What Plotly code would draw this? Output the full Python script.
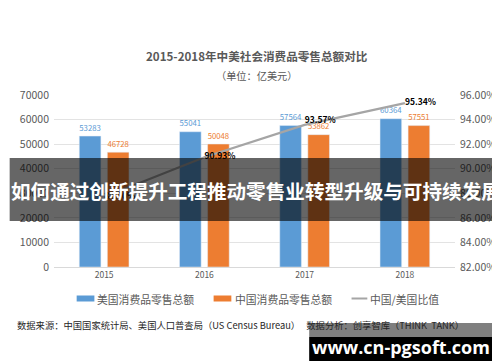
import plotly.graph_objects as go

years = ["2015", "2016", "2017", "2018"]
us_sales = [53283, 55041, 57564, 60364]
cn_sales = [46728, 50048, 53862, 57551]
ratio_pct = [87.70, 90.93, 93.57, 95.34]
left_ticks = [0, 10000, 20000, 30000, 40000, 50000, 60000, 70000]
right_ticks = [82, 84, 86, 88, 90, 92, 94, 96]

BLUE = "#5b9bd5"
ORANGE = "#ed7d31"
GRAY = "#a5a5a5"
TXT = "#595959"
FONT = "Noto Sans CJK SC"

W, H = 500, 362
L, R, T, B = 45, 452, 87, 259


def px(x):
    return (x - L) / (R - L)


def py(y):
    return (B - y) / (B - T)


fig = go.Figure()
fig.add_trace(go.Bar(
    x=years, y=us_sales, name="美国消费品零售总额", marker_color=BLUE,
    text=us_sales, textposition="outside", cliponaxis=False,
    textfont=dict(color=BLUE, size=9.5, family=FONT),
))
fig.add_trace(go.Bar(
    x=years, y=cn_sales, name="中国消费品零售总额", marker_color=ORANGE,
    text=cn_sales, textposition="outside", cliponaxis=False,
    textfont=dict(color=ORANGE, size=9.5, family=FONT),
))
fig.add_trace(go.Scatter(
    x=years, y=ratio_pct, name="中国/美国比值", yaxis="y2", mode="lines+text",
    line=dict(color=GRAY, width=2.2),
    text=[f"{v:.2f}%" for v in ratio_pct],
    textposition=["middle right", "middle right", "top right", "middle right"],
    textfont=dict(color="#000000", size=8.5, family=FONT, weight="bold"),
    cliponaxis=False,
))

fig.update_layout(
    width=W, height=H,
    margin=dict(l=L, r=W - R, t=T, b=H - B, pad=0),
    paper_bgcolor="white", plot_bgcolor="white",
    showlegend=False,
    barmode="group", bargap=0.44, bargroupgap=0.23,
    font=dict(family=FONT, color=TXT),
    xaxis=dict(
        type="category", showgrid=False, showline=True, linecolor="#d9d9d9",
        linewidth=1, ticks="", tickfont=dict(size=8.5, color=TXT),
    ),
    yaxis=dict(
        range=[0, 70000], tickvals=left_ticks, ticktext=[str(v) for v in left_ticks],
        showgrid=True, gridcolor="#e3e3e3", gridwidth=1, zeroline=False,
        tickfont=dict(size=10.5, color=TXT), ticklabelstandoff=4,
    ),
    yaxis2=dict(
        range=[82, 96], overlaying="y", side="right",
        tickvals=right_ticks, ticktext=[f"{v:.2f}%" for v in right_ticks],
        showgrid=False, zeroline=False,
        tickfont=dict(size=10.5, color=TXT), ticklabelstandoff=4,
    ),
)

shapes = []
annotations = []


def note(x, y, text, size, color=TXT, xanchor="center", family=FONT):
    annotations.append(dict(x=px(x), y=py(y), xref="paper", yref="paper", showarrow=False,
                            xanchor=xanchor, yanchor="middle", text=text,
                            font=dict(size=size, color=color, family=family)))


# titles
note(251, 48, "<b>2015-2018年中美社会消费品零售总额对比</b>", 11.6)
note(251, 67, "（单位：亿美元）", 10.2)

# custom legend
leg_y = 290.5
shapes.append(dict(type="rect", xref="paper", yref="paper", x0=px(68), x1=px(86),
                   y0=py(293.5), y1=py(287.5), fillcolor=BLUE, line=dict(width=0)))
shapes.append(dict(type="rect", xref="paper", yref="paper", x0=px(207), x1=px(225),
                   y0=py(293.5), y1=py(287.5), fillcolor=ORANGE, line=dict(width=0)))
shapes.append(dict(type="line", xref="paper", yref="paper", x0=px(347), x1=px(363),
                   y0=py(leg_y), y1=py(leg_y), line=dict(color=GRAY, width=2)))
for xs, label in [(87, "美国消费品零售总额"), (227, "中国消费品零售总额"), (364, "中国/美国比值")]:
    note(xs, leg_y, label, 10.8, xanchor="left")

# source line
note(5, 317, "数据来源：中国国家统计局、美国人口普查局（US Census Bureau）   数据分析：创享智库（THINK  TANK）",
     9.3, color="#262626", xanchor="left")

# overlay band
shapes.append(dict(type="rect", xref="paper", yref="paper", x0=px(0), x1=px(500),
                   y0=py(213), y1=py(150), fillcolor="rgba(0,0,0,0.6)",
                   line=dict(width=0), layer="above"))
note(250, 182, "<b>如何通过创新提升工程推动零售业转型升级与可持续发展</b>", 19.6, color="white")

# watermark
shapes.append(dict(type="rect", xref="paper", yref="paper", x0=px(304), x1=px(492),
                   y0=py(329), y1=py(315), fillcolor="rgba(0,0,0,0.5)",
                   line=dict(width=0), layer="above"))
shapes.append(dict(type="rect", xref="paper", yref="paper", x0=px(304), x1=px(492),
                   y0=py(353), y1=py(329), fillcolor="black",
                   line=dict(width=0), layer="above"))
note(397, 339, "<b>www.cn-pgsoft.com</b>", 18, color="white", family="Open Sans")

fig.update_layout(shapes=shapes, annotations=annotations)
fig.write_html("out.html")
